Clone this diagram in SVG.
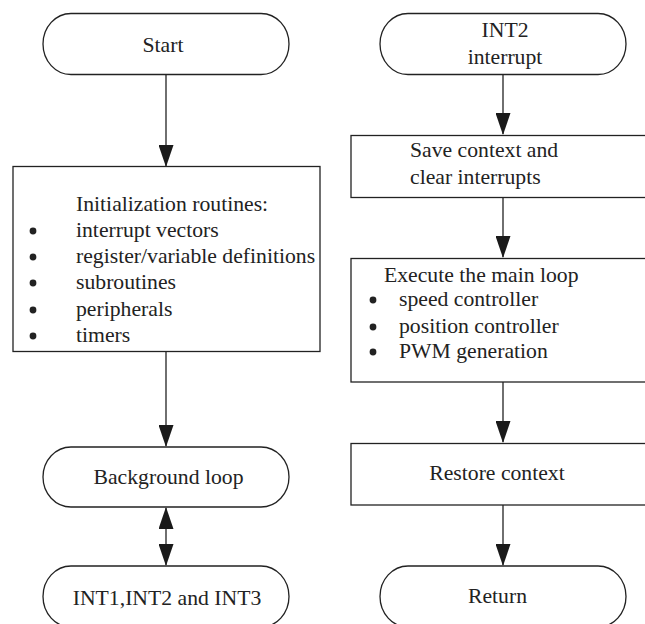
<svg xmlns="http://www.w3.org/2000/svg" width="645" height="624" viewBox="0 0 645 624">
<defs>
<style>
.shape{fill:#fff;stroke:#222;stroke-width:1.3}
.conn{stroke:#222;stroke-width:1.3;fill:none}
text{font-family:"Liberation Serif","Times New Roman",serif;font-size:21.7px;fill:#222}
.c{text-anchor:middle}
.dot{fill:#222}
</style>
<marker id="ah" markerUnits="userSpaceOnUse" markerWidth="22" markerHeight="15" refX="21" refY="7.5" orient="auto-start-reverse">
<path d="M0,0 L22,7.5 L0,15 z" fill="#1a1a1a"/>
</marker>
</defs>
<rect width="645" height="624" fill="#fff"/>
<g id="connectors">
<line class="conn" x1="166" y1="75" x2="166" y2="166" marker-end="url(#ah)"/>
<line class="conn" x1="166" y1="351" x2="166" y2="446" marker-end="url(#ah)"/>
<line class="conn" x1="166" y1="508" x2="166" y2="565" marker-start="url(#ah)" marker-end="url(#ah)"/>
<line class="conn" x1="503" y1="75" x2="503" y2="134" marker-end="url(#ah)"/>
<line class="conn" x1="503" y1="197" x2="503" y2="257" marker-end="url(#ah)"/>
<line class="conn" x1="503" y1="382" x2="503" y2="442" marker-end="url(#ah)"/>
<line class="conn" x1="503" y1="505" x2="503" y2="565" marker-end="url(#ah)"/>
</g>
<g id="start">
<rect class="shape" x="43" y="13.5" width="246" height="61" rx="28" ry="30.5"/>
<text class="c" x="163" y="52">Start</text>
</g>
<g id="init">
<rect class="shape" x="13" y="166.5" width="307" height="185"/>
<text x="76" y="211">Initialization routines:</text>
<circle class="dot" cx="33" cy="231" r="3.4"/>
<text x="76" y="237">interrupt vectors</text>
<circle class="dot" cx="33" cy="257" r="3.4"/>
<text x="76" y="263">register/variable definitions</text>
<circle class="dot" cx="33" cy="283" r="3.4"/>
<text x="76" y="289">subroutines</text>
<circle class="dot" cx="33" cy="310" r="3.4"/>
<text x="76" y="316">peripherals</text>
<circle class="dot" cx="33" cy="336" r="3.4"/>
<text x="76" y="342">timers</text>
</g>
<g id="background">
<rect class="shape" x="43" y="447" width="246" height="60" rx="28" ry="30"/>
<text class="c" x="168.5" y="484">Background loop</text>
</g>
<g id="ints">
<rect class="shape" x="43" y="566" width="246" height="61" rx="28" ry="30.5"/>
<text class="c" x="167" y="605">INT1,INT2 and INT3</text>
</g>
<g id="int2">
<rect class="shape" x="380" y="13.5" width="246" height="61" rx="28" ry="30.5"/>
<text class="c" x="505" y="37">INT2</text>
<text class="c" x="505" y="64">interrupt</text>
</g>
<g id="save">
<rect class="shape" x="351" y="135.5" width="304" height="62"/>
<text x="410" y="157">Save context and</text>
<text x="410" y="184">clear interrupts</text>
</g>
<g id="execute">
<rect class="shape" x="351" y="258.5" width="304" height="123.5"/>
<text x="384" y="282">Execute the main loop</text>
<circle class="dot" cx="373" cy="300" r="3.4"/>
<text x="399" y="306">speed controller</text>
<circle class="dot" cx="373" cy="327" r="3.4"/>
<text x="399" y="333">position controller</text>
<circle class="dot" cx="373" cy="352" r="3.4"/>
<text x="399" y="358">PWM generation</text>
</g>
<g id="restore">
<rect class="shape" x="351" y="443.5" width="304" height="61.5"/>
<text class="c" x="497" y="480">Restore context</text>
</g>
<g id="return">
<rect class="shape" x="380" y="566" width="246" height="61" rx="28" ry="30.5"/>
<text class="c" x="497.5" y="603">Return</text>
</g>
</svg>
